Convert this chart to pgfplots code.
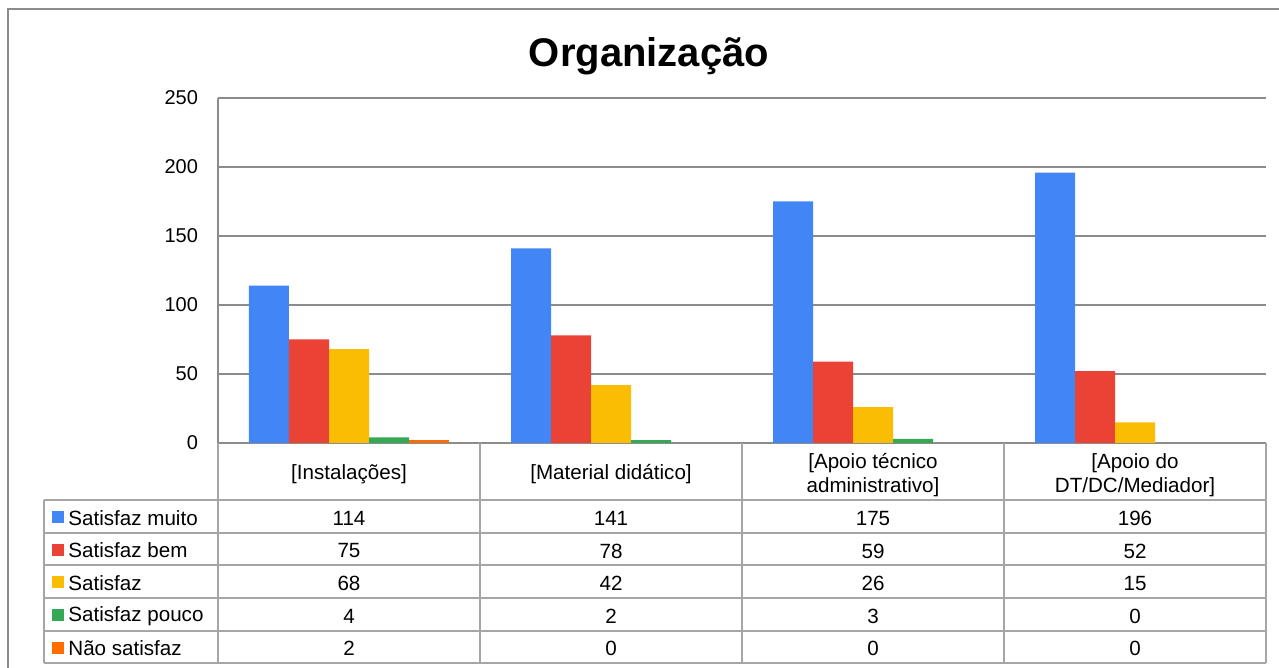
\documentclass[border=0pt]{standalone}
\usepackage{fontspec}
\setmainfont{Liberation Sans}
\usepackage{pgfplots}
\pgfplotsset{compat=1.18}
\definecolor{cA}{HTML}{4285F4}
\definecolor{cB}{HTML}{EA4335}
\definecolor{cC}{HTML}{FBBC04}
\definecolor{cD}{HTML}{34A853}
\definecolor{cE}{HTML}{FF6D01}
\definecolor{axgray}{HTML}{8C8C8C}
\definecolor{tabgray}{HTML}{A6A6A6}
\begin{document}
\begin{tikzpicture}
\begin{axis}[at={(0,0)}, anchor=south west, scale only axis,
  width=524pt, height=172.5pt,
  ymin=0, ymax=250, ytick={0,50,...,250},
  xmin=-0.5, xmax=3.5, xtick=\empty,
  ybar=0pt, bar width=20pt,
  axis x line*=bottom, axis y line*=left,
  axis line style={draw=axgray, line width=1pt},
  ymajorgrids, grid style={draw=axgray, line width=1pt},
  major tick length=0pt, tick style={draw=none},
  yticklabel style={font=\fontsize{10}{12}\selectfont, xshift=-6.5pt},
  /pgf/number format/assume math mode=true,
  y filter/.expression={y==0 ? nan : y},
  unbounded coords=discard,
  clip=false]
\addplot[fill=cA, draw=none] coordinates {(0,114) (1,141) (2,175) (3,196)};
\addplot[fill=cB, draw=none] coordinates {(0,75) (1,78) (2,59) (3,52)};
\addplot[fill=cC, draw=none] coordinates {(0,68) (1,42) (2,26) (3,15)};
\addplot[fill=cD, draw=none] coordinates {(0,4) (1,2) (2,3) (3,0)};
\addplot[fill=cE, draw=none] coordinates {(0,2) (1,0) (2,0) (3,0)};
\end{axis}
\begin{scope}[x=0.5pt, y=-0.5pt, shift={(-109pt,221.5pt)}]
  % outer border
  \draw[draw=axgray, line width=1pt] (8,9) rectangle (1300,690);
  % title
  \node[anchor=base, font=\fontsize{20}{24}\selectfont\bfseries] at (649,67) {Organização};
  % table lines
  \begin{scope}[draw=tabgray, line width=1pt]
    \foreach \x in {218,480,742,1004,1266} \draw (\x,443) -- (\x,663);
    \draw (44,500) -- (44,663);
    \foreach \y in {500,533,565,598,631,663} \draw (44,\y) -- (1266,\y);
  \end{scope}
  \begin{scope}[font=\fontsize{10.3}{12.4}\selectfont]
    \node[align=center] at (349,474) {[Instalações]};
    \node[align=center] at (611,474) {[Material didático]};
    \node[align=center, text depth=0pt] at (873,473) {[Apoio técnico\\administrativo]};
    \node[align=center, text depth=0pt] at (1135,473) {[Apoio do\\DT/DC/Mediador]};
    % legend column
    \fill[cA] (52,511) rectangle (64,523);
    \fill[cB] (52,544) rectangle (64,556);
    \fill[cC] (52,576) rectangle (64,588);
    \fill[cD] (52,609) rectangle (64,621);
    \fill[cE] (52,642) rectangle (64,654);
    \node[anchor=west, inner sep=0pt] at (68,518) {Satisfaz muito};
    \node[anchor=west, inner sep=0pt] at (68,550.5) {Satisfaz bem};
    \node[anchor=west, inner sep=0pt] at (68,583) {Satisfaz};
    \node[anchor=west, inner sep=0pt] at (68,616) {Satisfaz pouco};
    \node[anchor=west, inner sep=0pt] at (68,648.5) {Não satisfaz};
    % values
    \foreach \c/\a/\b/\d/\e/\f in {349/114/75/68/4/2, 611/141/78/42/2/0, 873/175/59/26/3/0, 1135/196/52/15/0/0} {
      \node at (\c,518.5) {\a};
      \node at (\c,551) {\b};
      \node at (\c,583.5) {\d};
      \node at (\c,616) {\e};
      \node at (\c,648.5) {\f};
    }
  \end{scope}
  \pgfresetboundingbox
  \path[use as bounding box] (0,0) rectangle (1279,668);
\end{scope}
\end{tikzpicture}
\end{document}
